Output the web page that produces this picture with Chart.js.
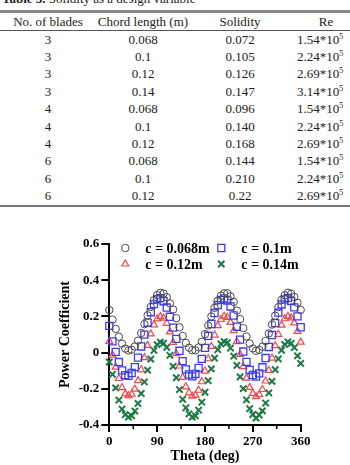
<!DOCTYPE html>
<html lang="en">
<head>
<meta charset="UTF-8" />
<title>Power Coefficient vs Theta</title>
<script src="https://cdn.jsdelivr.net/npm/chart.js"></script>
<style>
  body { margin: 0; width: 350px; height: 465px; overflow: hidden; background: #fff; position: relative;
         font-family: "Liberation Serif", "Times New Roman", serif; color: #222; }
  .cap { position: absolute; left: 2px; top: -9px; font-size: 13px; white-space: nowrap; }
  table { position: absolute; top: 10px; left: 0; width: 350px; border-collapse: collapse; table-layout: fixed; font-size: 13px; }
  th { font-weight: normal; height: 17px; padding: 0; text-align: center; border-top: 3px solid #8a8a8a; border-bottom: 1px solid #555; }
  td { height: 17.4px; padding: 0; text-align: center; }
  tbody tr:last-child td { border-bottom: 2px solid #777; }
  sup { font-size: 8px; vertical-align: 5px; line-height: 0; }
  #wrap { position: absolute; left: 0; top: 225px; width: 350px; height: 240px; }
</style>
</head>
<body>
<div class="cap"><b>Table 3.</b> Solidity as a design variable</div>
<table id="tbl">
  <colgroup><col style="width:96px"><col style="width:94px"><col style="width:100px"><col style="width:60px"></colgroup>
  <thead><tr><th>No. of blades</th><th>Chord length (m)</th><th>Solidity</th><th style="padding-left:12px">Re</th></tr></thead>
  <tbody></tbody>
</table>
<div id="wrap"><canvas id="cpChart" width="350" height="240"></canvas></div>

<script>
    // table values
    const blades = [3, 3, 3, 3, 4, 4, 4, 6, 6, 6];
    const chords = ["0.068", "0.1", "0.12", "0.14", "0.068", "0.1", "0.12", "0.068", "0.1", "0.12"];
    const solidity = ["0.072", "0.105", "0.126", "0.147", "0.096", "0.140", "0.168", "0.144", "0.210", "0.22"];
    const reBase = ["1.54", "2.24", "2.69", "3.14", "1.54", "2.24", "2.69", "1.54", "2.24", "2.69"];

    // chart values
    const theta = [0, 6, 12, 18, 24, 30, 36, 42, 48, 54, 60, 66, 72, 78, 84, 90, 96, 102, 108, 114,
        120, 126, 132, 138, 144, 150, 156, 162, 168, 174, 180, 186, 192, 198, 204, 210, 216, 222, 228, 234,
        240, 246, 252, 258, 264, 270, 276, 282, 288, 294, 300, 306, 312, 318, 324, 330, 336, 342, 348, 354, 360];
    const cp068 = [0.235, 0.182, 0.131, 0.088, 0.049, 0.022, 0.012, 0.016, 0.034, 0.066, 0.108, 0.157, 0.206, 0.252, 0.290, 0.318, 0.330, 0.326, 0.306, 0.272,
        0.238, 0.190, 0.140, 0.092, 0.053, 0.027, 0.013, 0.012, 0.029, 0.060, 0.102, 0.150, 0.200, 0.247, 0.287, 0.314, 0.327, 0.328, 0.311, 0.280,
        0.232, 0.185, 0.135, 0.089, 0.050, 0.023, 0.010, 0.015, 0.033, 0.064, 0.106, 0.155, 0.204, 0.251, 0.291, 0.317, 0.331, 0.325, 0.307, 0.275, 0.236];
    const cp10 = [0.148, 0.062, 0.004, -0.052, -0.098, -0.125, -0.128, -0.113, -0.080, -0.028, 0.034, 0.099, 0.165, 0.223, 0.268, 0.295, 0.301, 0.284, 0.249, 0.198,
        0.138, 0.076, 0.010, -0.047, -0.093, -0.121, -0.131, -0.118, -0.085, -0.035, 0.026, 0.093, 0.158, 0.218, 0.262, 0.291, 0.299, 0.288, 0.255, 0.205,
        0.143, 0.072, 0.006, -0.051, -0.096, -0.124, -0.132, -0.115, -0.081, -0.030, 0.031, 0.097, 0.163, 0.221, 0.266, 0.294, 0.302, 0.285, 0.250, 0.200, 0.140];
    const cp12 = [0.062, -0.014, -0.080, -0.143, -0.193, -0.228, -0.238, -0.230, -0.202, -0.155, -0.095, -0.028, 0.040, 0.103, 0.153, 0.186, 0.199, 0.191, 0.162, 0.114,
        0.056, -0.006, -0.074, -0.137, -0.189, -0.222, -0.241, -0.235, -0.208, -0.161, -0.102, -0.034, 0.034, 0.097, 0.149, 0.183, 0.201, 0.195, 0.167, 0.121,
        0.060, -0.010, -0.078, -0.141, -0.192, -0.226, -0.243, -0.232, -0.204, -0.157, -0.098, -0.030, 0.038, 0.101, 0.152, 0.187, 0.200, 0.192, 0.164, 0.117, 0.058];
    const cp14 = [-0.052, -0.120, -0.195, -0.262, -0.312, -0.343, -0.356, -0.349, -0.323, -0.281, -0.226, -0.162, -0.097, -0.036, 0.012, 0.044, 0.058, 0.052, 0.029, -0.015,
        -0.076, -0.139, -0.204, -0.258, -0.305, -0.338, -0.356, -0.350, -0.318, -0.274, -0.219, -0.155, -0.090, -0.031, 0.016, 0.048, 0.061, 0.055, 0.025, -0.020,
        -0.071, -0.134, -0.199, -0.261, -0.310, -0.342, -0.362, -0.345, -0.322, -0.279, -0.223, -0.159, -0.094, -0.035, 0.013, 0.045, 0.059, 0.051, 0.028, -0.018, -0.060];
    const seriesLabels = ["c = 0.068m", "c = 0.1m", "c = 0.12m", "c = 0.14m"];

    // TABLE
    const tbody = document.querySelector("#tbl tbody");
    blades.forEach((b, i) => {
        const tr = document.createElement("tr");
        tr.innerHTML = "<td>" + b + "</td><td>" + chords[i] + "</td><td>" + solidity[i] + "</td><td>" + reBase[i] + "*10<sup>5</sup></td>";
        tbody.appendChild(tr);
    });

    const pts = arr => theta.map((t, i) => ({ x: t, y: arr[i] }));
    const serif = '"Liberation Serif", "Times New Roman", serif';

    // minor ticks on the x axis
    const minorTicks = {
        id: "minorTicks",
        afterDraw(chart) {
            const { ctx, scales: { x } } = chart;
            ctx.save();
            ctx.strokeStyle = "#000";
            ctx.lineWidth = 1.5;
            [45, 135, 225, 315].forEach(v => {
                const px = x.getPixelForValue(v);
                ctx.beginPath();
                ctx.moveTo(px, x.top);
                ctx.lineTo(px, x.top + 4);
                ctx.stroke();
            });
            ctx.restore();
        }
    };

    // legend in two columns inside the plot
    const cornerLegend = {
        id: "cornerLegend",
        afterDraw(chart) {
            const { ctx, chartArea } = chart;
            const cols = [16, 112];
            const rows = [4, 20];
            chart.data.datasets.forEach((ds, i) => {
                const mx = chartArea.left + cols[i % 2];
                const my = chartArea.top + rows[Math.floor(i / 2)];
                ctx.save();
                ctx.strokeStyle = ds.borderColor;
                ctx.fillStyle = "rgba(0,0,0,0)";
                ctx.lineWidth = ds.borderWidth;
                Chart.helpers.drawPoint(ctx, { pointStyle: ds.pointStyle, radius: ds.pointRadius, borderWidth: ds.borderWidth, rotation: 0 }, mx, my);
                ctx.fillStyle = "#000";
                ctx.font = "bold 14px " + serif;
                ctx.textBaseline = "middle";
                ctx.fillText(ds.label, mx + 20, my + 1);
                ctx.restore();
            });
        }
    };

    new Chart(document.getElementById("cpChart"), {
        type: "scatter",
        data: {
            datasets: [
                { label: seriesLabels[0], data: pts(cp068), pointStyle: "circle", pointRadius: 3.7, borderColor: "#4a4a4a", backgroundColor: "rgba(0,0,0,0)", borderWidth: 1, clip: false },
                { label: seriesLabels[1], data: pts(cp10), pointStyle: "rect", pointRadius: 5, borderColor: "#3c3cf0", backgroundColor: "rgba(0,0,0,0)", borderWidth: 1.3, clip: false },
                { label: seriesLabels[2], data: pts(cp12), pointStyle: "triangle", pointRadius: 4, borderColor: "#ee4848", backgroundColor: "rgba(0,0,0,0)", borderWidth: 1.2, clip: false },
                { label: seriesLabels[3], data: pts(cp14), pointStyle: "crossRot", pointRadius: 4.5, borderColor: "#1d7a46", backgroundColor: "rgba(0,0,0,0)", borderWidth: 2, clip: false }
            ]
        },
        options: {
            responsive: false,
            animation: false,
            layout: { padding: { left: 50, top: 19, right: 49.3, bottom: 0 } },
            plugins: { legend: { display: false }, tooltip: { enabled: false } },
            scales: {
                x: {
                    type: "linear", min: 0, max: 360,
                    ticks: { stepSize: 90, color: "#000", padding: 2, font: { family: serif, size: 13, weight: "bold" } },
                    grid: { display: true, drawOnChartArea: false, drawTicks: true, tickLength: 7, color: "#000", lineWidth: 2 },
                    border: { display: true, color: "#000", width: 2 },
                    title: { display: true, text: "Theta (deg)", color: "#000", padding: 0, font: { family: serif, size: 14, weight: "bold" } },
                    afterFit: s => { s.height = 40; }
                },
                y: {
                    min: -0.4, max: 0.6,
                    ticks: { stepSize: 0.2, color: "#000", padding: 2, font: { family: serif, size: 13, weight: "bold" } },
                    grid: { display: true, drawOnChartArea: false, drawTicks: true, tickLength: 8, color: "#000", lineWidth: 2 },
                    border: { display: true, color: "#000", width: 2 },
                    title: { display: true, text: "Power Coefficient", color: "#000", padding: { top: 6.6, bottom: 0 }, font: { family: serif, size: 14, weight: "bold" } },
                    afterFit: s => { s.width = 59.3; }
                }
            }
        },
        plugins: [minorTicks, cornerLegend]
    });
</script>
</body>
</html>
